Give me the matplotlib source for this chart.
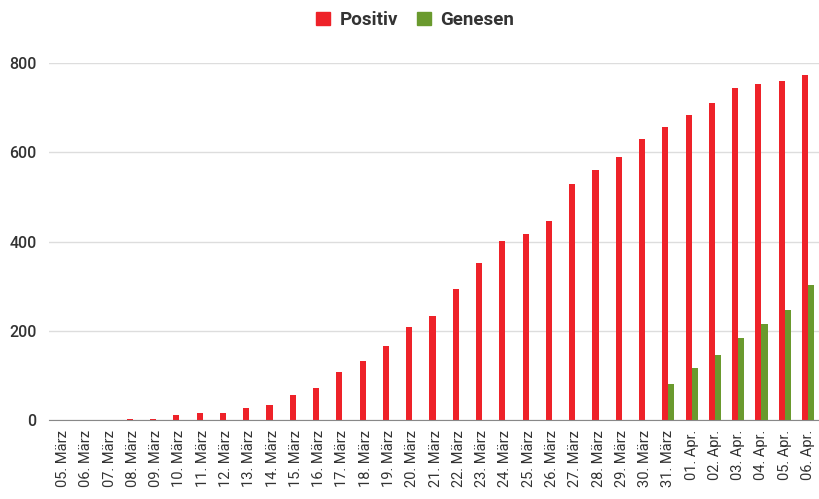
import numpy as np
import matplotlib.pyplot as plt
from matplotlib.patches import Patch

plt.rcParams['font.family'] = ['Roboto', 'DejaVu Sans']

labels = [f"{d:02d}. März" for d in range(5, 32)] + [f"{d:02d}. Apr." for d in range(1, 7)]
positiv = [0, 0, 0, 3, 3, 11, 16, 16, 26, 34, 56, 72, 107, 132, 165, 208, 233,
           293, 352, 401, 416, 445, 528, 560, 589, 629, 657, 683, 710, 745, 754, 759, 772]
genesen = [0] * 26 + [80, 116, 146, 184, 215, 246, 302]

red = '#ee2229'
green = '#6a9a2e'

fig = plt.figure(figsize=(8.19, 4.99), dpi=100)
ax = fig.add_axes([49 / 819, 79 / 499, 770 / 819, 357 / 499])

x = np.arange(len(labels))
w = 0.26
ax.bar(x - w / 2, positiv, width=w, color=red, zorder=3)
ax.bar(x + w / 2, genesen, width=w, color=green, zorder=3)

ax.set_xlim(-0.6, 32.47)
ax.set_ylim(0, 800)
ax.set_yticks([0, 200, 400, 600, 800])
ax.yaxis.grid(True, color='#dddddd', linewidth=1, zorder=0)
ax.set_xticks(x)
ax.set_xticklabels(labels, rotation=90, fontsize=10.5, color='#333333')
ax.tick_params(axis='both', length=0)
ax.tick_params(axis='x', pad=7)
ax.tick_params(axis='y', pad=9)
for t in ax.get_yticklabels():
    t.set_fontsize(11.5)
    t.set_fontweight('medium')
    t.set_color('#333333')

for s in ['top', 'right', 'left']:
    ax.spines[s].set_visible(False)
ax.spines['bottom'].set_color('#888888')
ax.spines['bottom'].set_zorder(4)

handles = [Patch(color=red, label='Positiv'), Patch(color=green, label='Genesen')]
fig.legend(handles=handles, loc='center', bbox_to_anchor=(415 / 819, 1 - 20 / 499),
           ncol=2, frameon=False, handlelength=0.75, handleheight=0.75,
           handletextpad=0.5, columnspacing=1.0,
           prop={'size': 13.5, 'weight': 'bold'}, labelcolor='#333333')

fig.savefig('out.png', dpi=100)
